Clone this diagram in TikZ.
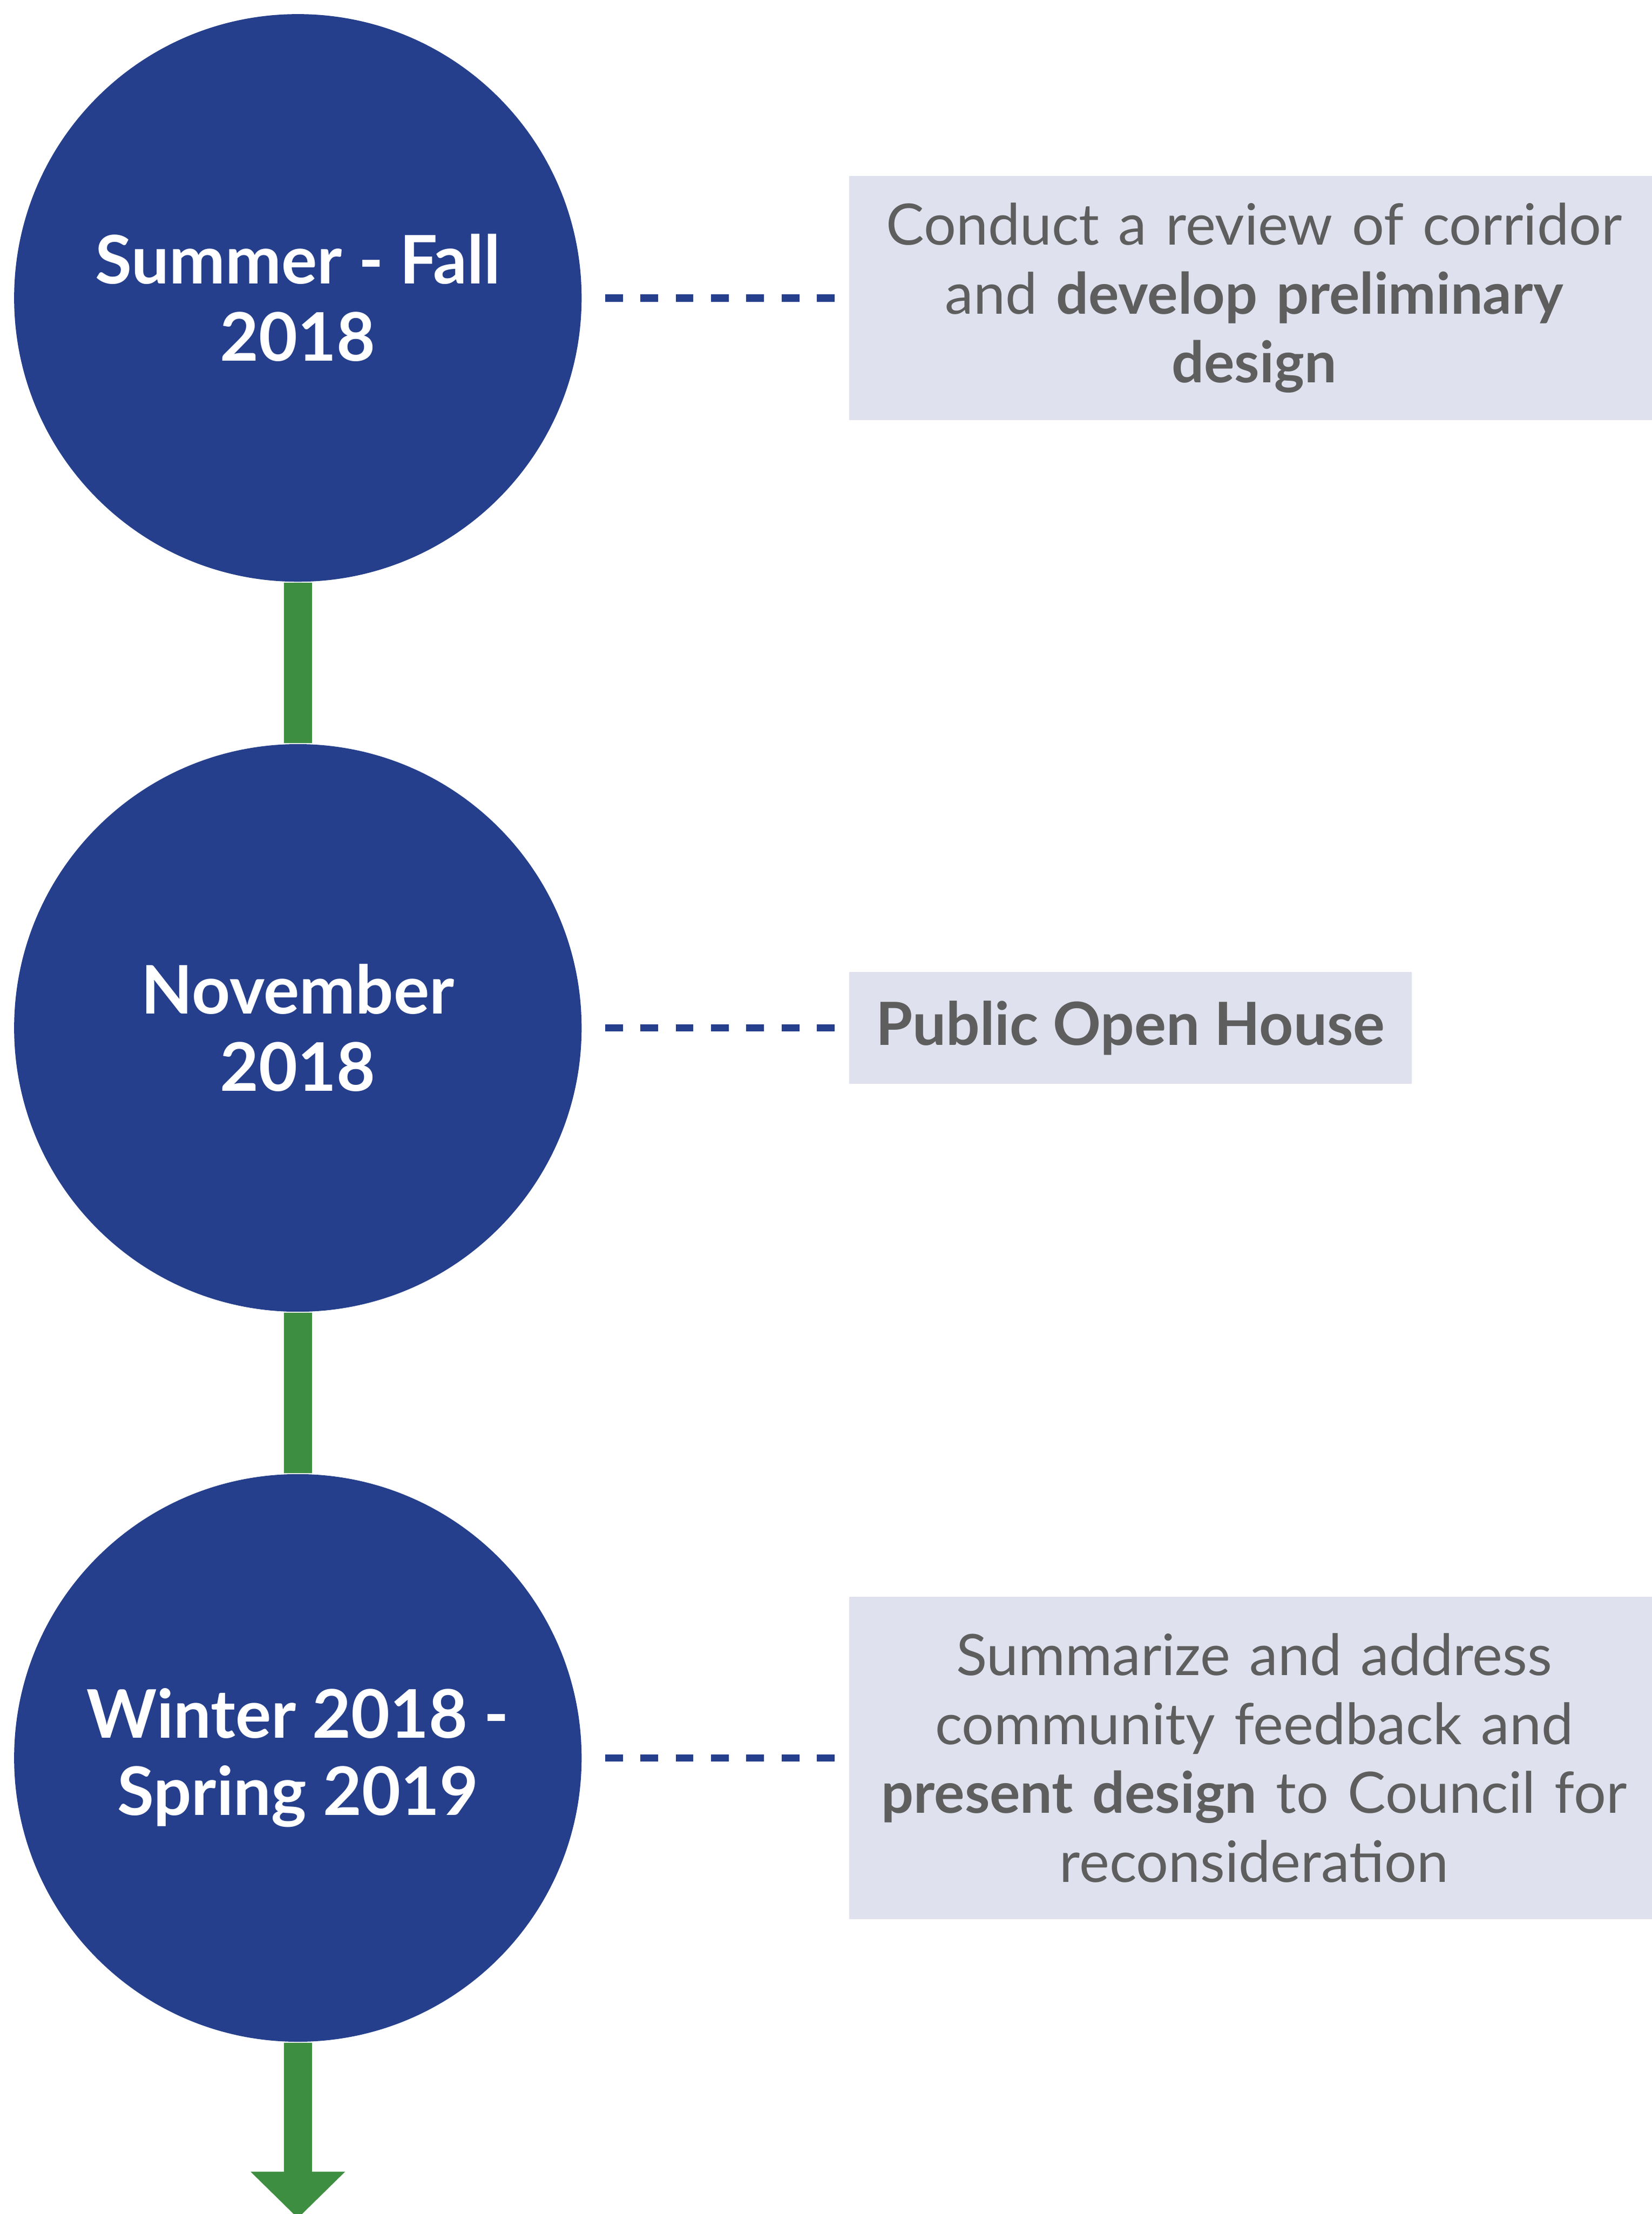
\documentclass[tikz,border=0pt]{standalone}
\usepackage{fontspec}
\setmainfont{Lato}
\usetikzlibrary{positioning,arrows.meta}
\definecolor{navy}{HTML}{253F8C}
\definecolor{leaf}{HTML}{3E8E41}
\definecolor{lavender}{HTML}{DFE1EE}
\definecolor{textgray}{HTML}{5E5E5E}

\begin{document}
\begin{tikzpicture}[node distance=5.17cm,
    date node/.style={circle,fill=navy,text=white,minimum size=4.02cm,inner sep=0pt,align=center,font=\bfseries\fontsize{13.5}{15.6}\selectfont},
    note node/.style={fill=lavender,text=textgray,inner xsep=0.17cm,inner ysep=0pt,align=center,font=\fontsize{11.5}{13.9}\selectfont},
    timeline/.style={draw=leaf,line width=0.2cm},
    link/.style={draw=navy,line width=1.5pt,dash pattern=on 0.125cm off 0.125cm,shorten <=0.16cm,shorten >=0.08cm}]
            \useasboundingbox (0,0) rectangle (11.70,-15.68);

            \node[date node] (1) at (2.11,-2.11) {Summer - Fall\\2018};
            \node[date node] (2) [below of = 1] {November\\2018};
            \node[date node] (3) [below of = 2] {Winter 2018 -\\Spring 2019};
            \coordinate (end) at (2.11,-15.71);

            \node[note node,text width=5.40cm,minimum height=1.73cm] (4) [right=1.88cm of 1] {Conduct a review of corridor\\and \textbf{develop preliminary}\\\textbf{design}};
            \node[note node,minimum height=0.79cm,inner xsep=0.19cm,font=\fontsize{12}{14}\selectfont] (5) [right=1.88cm of 2] {\textbf{Public Open House}};
            \node[note node,text width=5.40cm,minimum height=2.28cm] (6) [right=1.88cm of 3] {Summarize and address\\community feedback and\\\textbf{present design} to Council for\\reconsideration};

            \path
                (1) edge[timeline] (2)
                (2) edge[timeline] (3)
                (3) edge[timeline,-{Triangle[width=0.65cm,length=0.33cm]}] (end)
                (1) edge[link] (4)
                (2) edge[link] (5)
                (3) edge[link] (6)
                ;
\end{tikzpicture}
\end{document}
